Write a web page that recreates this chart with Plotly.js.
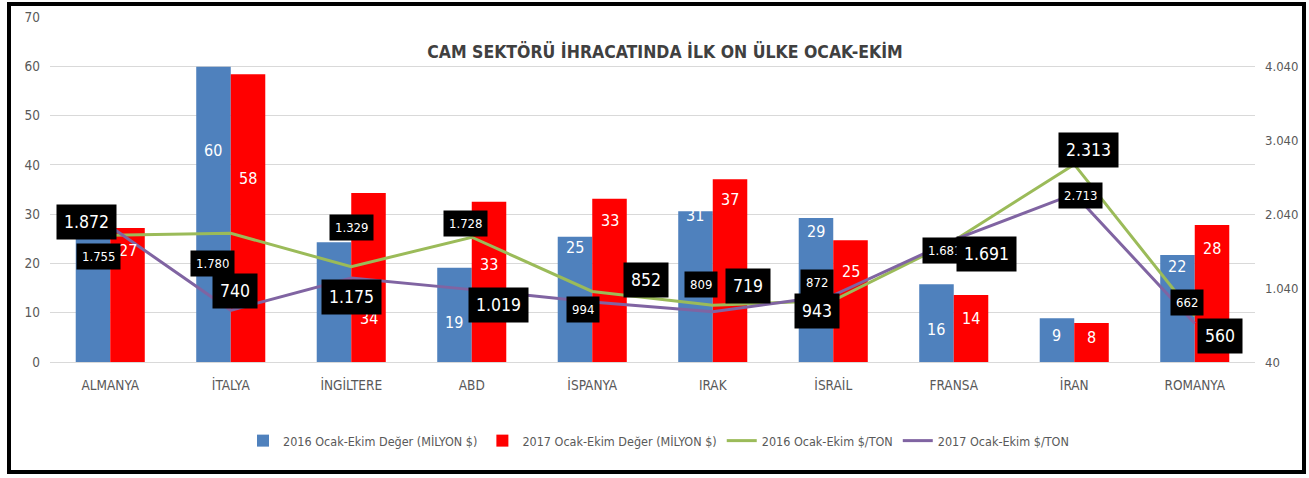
<!DOCTYPE html>
<html>
<head>
<meta charset="utf-8">
<script src="https://cdn.plot.ly/plotly-3.0.1.min.js"></script>
<style>
  html, body { margin: 0; padding: 0; background: #fff; }
  #wrap { position: relative; width: 1309px; height: 478px; }
  #chart { position: absolute; left: 0; top: 0; width: 1309px; height: 478px; }
  #frame { position: absolute; left: 7px; top: 2px; width: 1291px; height: 464px; border: 4px solid #000; pointer-events: none; }
</style>
</head>
<body>
<div id="wrap"><div id="chart"></div><div id="frame"></div></div>
<script>
// ---- data ----
const categories = ['ALMANYA', 'İTALYA', 'İNGİLTERE', 'ABD', 'İSPANYA', 'IRAK', 'İSRAİL', 'FRANSA', 'İRAN', 'ROMANYA'];
const value2016 = [25.5, 59.9, 24.3, 19.1, 25.4, 30.6, 29.2, 15.8, 8.9, 21.7];
const value2017 = [27.2, 58.4, 34.3, 32.5, 33.1, 37.1, 24.7, 13.6, 7.9, 27.8];
const ton2016 = [1755, 1780, 1329, 1728, 994, 809, 872, 1681, 2713, 662];
const ton2017 = [1872, 740, 1175, 1019, 852, 719, 943, 1691, 2313, 560];
const seriesNames = ['2016 Ocak-Ekim Değer (MİLYON $)', '2017 Ocak-Ekim Değer (MİLYON $)', '2016 Ocak-Ekim $/TON', '2017 Ocak-Ekim $/TON'];
const titleText = 'CAM SEKTÖRÜ İHRACATINDA İLK ON ÜLKE OCAK-EKİM';
const rightTicks = [40, 1040, 2040, 3040, 4040];

// ---- label placement (pixel nudges, styling only) ----
const barLabelDrop2016 = [20, 84, 55, 55, 11, 4, 13, 45, 17, 11];
const barLabelDrop2017 = [23, 104, 126, 63, 22, 20, 31, 24, 14, 24];
const barLabelHidden2016 = [0, 2]; // covered by the value boxes in the original
const boxShift2016 = [[-12, 21], [-18, 30], [0, -39], [-6, -14], [-9, 18], [-12, -21], [-16, -18], [-9, 10], [6, 31], [-8, -14]];
const boxShift2017 = [[-24, -5], [4, -19], [0, 19], [27, 15], [54, -22], [35, -26], [-16, 16], [33, 14], [14, -44], [25, 12]];

const FONT = '"DejaVu Sans Condensed", "Liberation Sans Narrow", sans-serif';
const GREY = '#595959';
const fmt = v => String(v).replace(/\B(?=(\d{3})+(?!\d))/g, '.');

const margin = {l: 50, r: 54, t: 17, b: 116};
const W = 1309, bargap = 0.427;
const catPx = (W - margin.l - margin.r) / categories.length;
const barOffset = catPx * (1 - bargap) / 4;

const traces = [
  {type: 'bar', x: categories, y: value2016, name: seriesNames[0], marker: {color: '#4F81BD'}, hoverinfo: 'skip'},
  {type: 'bar', x: categories, y: value2017, name: seriesNames[1], marker: {color: '#FF0000'}, hoverinfo: 'skip'},
  {type: 'scatter', mode: 'lines', x: categories, y: ton2016, yaxis: 'y2', name: seriesNames[2], line: {color: '#9BBB59', width: 3}, hoverinfo: 'skip'},
  {type: 'scatter', mode: 'lines', x: categories, y: ton2017, yaxis: 'y2', name: seriesNames[3], line: {color: '#8064A2', width: 3}, hoverinfo: 'skip'}
];

const annotations = [];
categories.forEach((c, i) => {
  if (!barLabelHidden2016.includes(i)) {
    annotations.push({x: c, y: value2016[i], xref: 'x', yref: 'y', text: String(Math.round(value2016[i])), showarrow: false,
      xshift: -barOffset, yshift: -barLabelDrop2016[i], font: {family: FONT, size: 16, color: '#fff'}});
  }
  annotations.push({x: c, y: value2017[i], xref: 'x', yref: 'y', text: String(Math.round(value2017[i])), showarrow: false,
    xshift: barOffset, yshift: -barLabelDrop2017[i], font: {family: FONT, size: 16, color: '#fff'}});
});
categories.forEach((c, i) => {
  annotations.push({x: c, y: ton2016[i], xref: 'x', yref: 'y2', text: fmt(ton2016[i]), showarrow: false,
    xshift: boxShift2016[i][0], yshift: -boxShift2016[i][1], bgcolor: '#000', borderpad: 5,
    font: {family: FONT, size: 13, color: '#fff'}});
});
categories.forEach((c, i) => {
  annotations.push({x: c, y: ton2017[i], xref: 'x', yref: 'y2', text: fmt(ton2017[i]), showarrow: false,
    xshift: boxShift2017[i][0], yshift: -boxShift2017[i][1], bgcolor: '#000', borderpad: 7,
    font: {family: FONT, size: 17.5, color: '#fff'}});
});

const layout = {
  width: 1309, height: 478,
  margin: margin,
  paper_bgcolor: '#fff', plot_bgcolor: '#fff',
  font: {family: FONT, color: GREY},
  barmode: 'group', bargap: bargap, bargroupgap: 0,
  title: {text: '<b>' + titleText + '</b>', font: {family: FONT, size: 17.5, color: '#404040'},
    xref: 'container', x: 0.508, xanchor: 'center', yref: 'container', y: 1 - 52 / 478, yanchor: 'middle'},
  xaxis: {type: 'category', showgrid: false, showline: false, ticks: '', tickfont: {size: 13.5, color: GREY}, ticklabelstandoff: 13},
  yaxis: {range: [0, 70], dtick: 10, showgrid: true, gridcolor: '#D9D9D9', gridwidth: 1, zeroline: true, zerolinecolor: '#D9D9D9',
    showline: false, ticks: '', tickfont: {size: 13.5, color: GREY}, ticklabelstandoff: 9},
  yaxis2: {overlaying: 'y', side: 'right', range: [40, 40 + 70 / 60 * 4000], tickvals: rightTicks, ticktext: rightTicks.map(fmt),
    showgrid: false, zeroline: false, showline: false, ticks: '', tickfont: {size: 13, color: GREY}, ticklabelstandoff: 9},
  showlegend: true,
  legend: {orientation: 'h', x: 0.505, xanchor: 'center', yref: 'container', y: 1 - 441 / 478, yanchor: 'middle',
    font: {family: FONT, size: 12.5, color: GREY}, traceorder: 'normal'},
  annotations: annotations,
  hovermode: false
};

Plotly.newPlot('chart', traces, layout, {displayModeBar: false, staticPlot: true});
</script>
</body>
</html>
